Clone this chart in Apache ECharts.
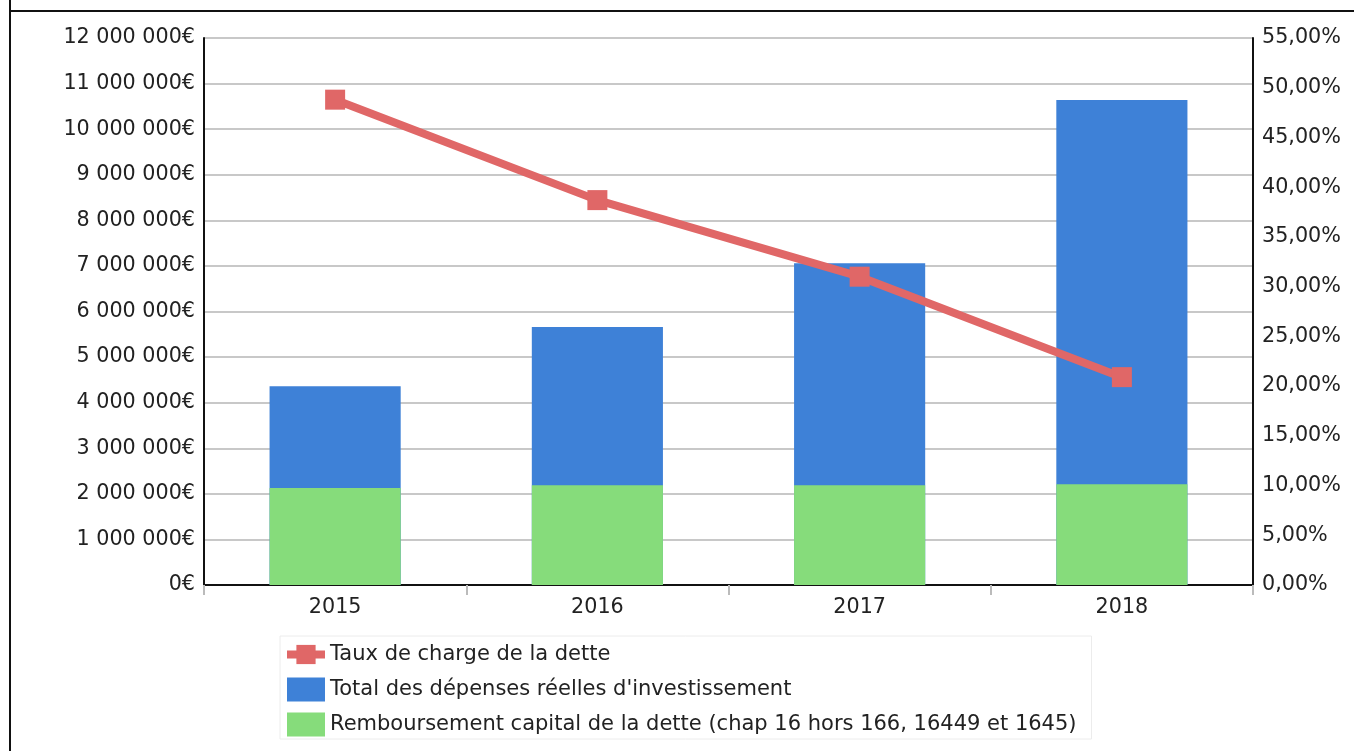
<!DOCTYPE html>
<html>
<head>
<meta charset="utf-8">
<script src="https://cdn.jsdelivr.net/npm/echarts@6/dist/echarts.min.js"></script>
<style>
html,body{margin:0;padding:0;background:#fff;}
#chart{width:1354px;height:751px;}
</style>
</head>
<body>
<div id="chart"></div>
<script>
const categories = ['2015', '2016', '2017', '2018'];
const totalInvest = [4360000, 5660000, 7060000, 10640000];
const rembCapital = [2130000, 2190000, 2190000, 2210000];
const tauxCharge = [48.8, 38.7, 31.0, 20.9];
const seriesNames = [
  'Taux de charge de la dette',
  "Total des dépenses réelles d'investissement",
  'Remboursement capital de la dette (chap 16 hors 166, 16449 et 1645)'
];

const FONT = '"DejaVu Sans", sans-serif';
function fmtEuro(v) {
  return String(Math.round(v)).replace(/\B(?=(\d{3})+(?!\d))/g, ' ') + '€';
}
function fmtPct(v) {
  return v.toFixed(2).replace('.', ',') + '%';
}

const chart = echarts.init(document.getElementById('chart'), null, {renderer: 'canvas'});
chart.setOption({
  animation: false,
  backgroundColor: '#ffffff',
  textStyle: {fontFamily: FONT},
  graphic: [
    {type: 'line', shape: {x1: 10, y1: 0, x2: 10, y2: 751}, style: {stroke: '#111', lineWidth: 2}},
    {type: 'line', shape: {x1: 10, y1: 11, x2: 1354, y2: 11}, style: {stroke: '#111', lineWidth: 2}}
  ],
  grid: {left: 204, right: 101, top: 38, bottom: 166},
  legend: {
    orient: 'vertical',
    left: 280,
    top: 636,
    padding: [6, 15, 2, 3],
    itemWidth: 38,
    itemHeight: 24,
    itemGap: 10,
    itemTextGap: 10,
    borderColor: '#ececec',
    borderWidth: 1,
    textStyle: {fontFamily: FONT, fontSize: 21, color: '#222', lineHeight: 25},
    data: [
      {name: seriesNames[0], lineStyle: {width: 8}},
      {name: seriesNames[1], icon: 'rect'},
      {name: seriesNames[2], icon: 'rect'}
    ]
  },
  xAxis: {
    type: 'category',
    data: categories,
    axisLine: {lineStyle: {color: '#111', width: 2}},
    axisTick: {show: true, length: 10, lineStyle: {color: '#bbb', width: 2}},
    axisLabel: {fontFamily: FONT, fontSize: 20.7, color: '#222', margin: 12}
  },
  yAxis: [
    {
      type: 'value', min: 0, max: 12000000, interval: 1000000,
      axisLine: {show: true, lineStyle: {color: '#111', width: 2}},
      axisTick: {show: false},
      splitLine: {lineStyle: {color: '#c8c8c8', width: 2}},
      axisLabel: {fontFamily: FONT, fontSize: 20.7, color: '#222', margin: 9, formatter: fmtEuro}
    },
    {
      type: 'value', min: 0, max: 55, interval: 5,
      axisLine: {show: true, lineStyle: {color: '#111', width: 2}},
      axisTick: {show: false},
      splitLine: {show: false},
      axisLabel: {fontFamily: FONT, fontSize: 20.7, color: '#222', margin: 9, formatter: fmtPct}
    }
  ],
  series: [
    {
      name: seriesNames[1], type: 'bar', data: totalInvest, barWidth: '50%', barGap: '-100%',
      itemStyle: {color: '#3e81d7'}, z: 2
    },
    {
      name: seriesNames[2], type: 'bar', data: rembCapital, barWidth: '50%', barGap: '-100%',
      itemStyle: {color: '#86dc7b'}, z: 3
    },
    {
      name: seriesNames[0], type: 'line', yAxisIndex: 1, data: tauxCharge,
      symbol: 'rect', symbolSize: 20,
      lineStyle: {color: '#e06767', width: 8},
      itemStyle: {color: '#e06767'}, z: 5
    }
  ]
});
</script>
</body>
</html>
